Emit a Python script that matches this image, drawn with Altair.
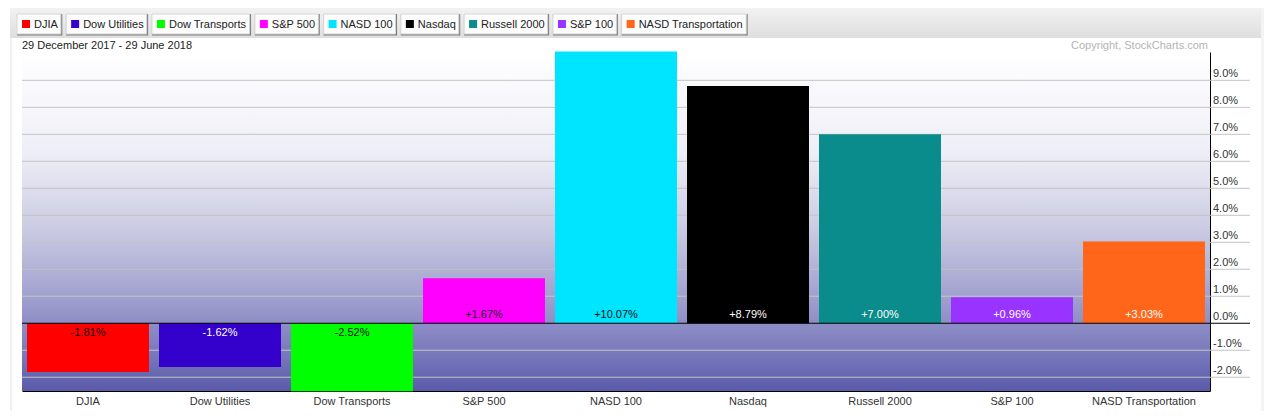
import altair as alt
import pandas as pd

# ---- data ----
NAMES = ["DJIA", "Dow Utilities", "Dow Transports", "S&P 500", "NASD 100",
         "Nasdaq", "Russell 2000", "S&P 100", "NASD Transportation"]
VALUES = [-1.81, -1.62, -2.52, 1.67, 10.07, 8.79, 7.00, 0.96, 3.03]
TICKS = [-2, -1, 1, 2, 3, 4, 5, 6, 7, 8, 9]
AXIS_TICKS = [-2, -1, 0, 1, 2, 3, 4, 5, 6, 7, 8, 9]
DATE_RANGE = "29 December 2017 - 29 June 2018"
COPYRIGHT = "Copyright, StockCharts.com"

# ---- styles ----
BAR_COLORS = ["#ff0000", "#3300cc", "#00ff00", "#ff00ff", "#00e5ff",
              "#000000", "#0a8c8c", "#9933ff", "#ff6619"]
LABEL_COLORS = ["#111111", "#ffffff", "#111111", "#222222", "#111111",
                "#ffffff", "#ffffff", "#ffffff", "#ffffff"]
FONT = "Liberation Sans, Arial, sans-serif"
W, H = 1188, 339

df = pd.DataFrame({"name": NAMES, "value": VALUES})
df["label"] = [f"{v:+.2f}%" for v in VALUES]

x_enc = alt.X("name:N", sort=NAMES,
              scale=alt.Scale(domain=NAMES, paddingInner=0.0758, paddingOuter=0.0379),
              axis=alt.Axis(title=None, labelAngle=0, ticks=False, domainColor="#000000",
                            domainWidth=1, labelFont=FONT, labelFontSize=11,
                            labelColor="#333333", labelPadding=4))
y_scale = alt.Scale(domain=[-2.51, 10.05], nice=False, zero=False)
y_axis = alt.Axis(orient="right", title=None, values=AXIS_TICKS, grid=False, ticks=False,
                  labels=False, domainColor="#000000")
color_scale = alt.Scale(domain=NAMES, range=BAR_COLORS)

one = pd.DataFrame({"k": [0]})

bg = alt.Chart(one).mark_rect(
    color=alt.Gradient(gradient="linear", x1=0, x2=0, y1=0, y2=1, stops=[
        alt.GradientStop(offset=0, color="#ffffff"),
        alt.GradientStop(offset=0.3, color="#eeeef7"),
        alt.GradientStop(offset=0.52, color="#cbcbe3"),
        alt.GradientStop(offset=0.72, color="#a1a1cf"),
        alt.GradientStop(offset=0.9, color="#7676bb"),
        alt.GradientStop(offset=1, color="#5a5aa9"),
    ])
).encode(x=alt.value(0), x2=alt.value(W), y=alt.value(0), y2=alt.value(H))

grid = alt.Chart(pd.DataFrame({"value": TICKS})).mark_rule(color="#c4c4c4", strokeWidth=1).encode(
    y=alt.Y("value:Q", scale=y_scale, axis=y_axis), x=alt.value(0), x2=alt.value(W + 40))

tick_df = pd.DataFrame({"value": AXIS_TICKS})
tick_df["label"] = [f"{v:.1f}%" for v in AXIS_TICKS]
tick_labels = alt.Chart(tick_df).mark_text(
    align="left", baseline="alphabetic", dy=-3, font=FONT, fontSize=11, color="#333333").encode(
    x=alt.value(W + 3), y=alt.Y("value:Q", scale=y_scale, axis=y_axis), text="label:N")

bars = alt.Chart(df).mark_bar().encode(
    x=x_enc,
    y=alt.Y("value:Q", scale=y_scale, axis=y_axis),
    y2=alt.datum(0),
    color=alt.Color("name:N", scale=color_scale, legend=None),
)

zero = alt.Chart(one).mark_rule(color="#000000", strokeWidth=1).encode(
    y=alt.datum(0), x=alt.value(0), x2=alt.value(W + 40))

lab_fill = alt.Fill("name:N", scale=alt.Scale(domain=NAMES, range=LABEL_COLORS), legend=None)
txt_pos = alt.Chart(df).transform_filter("datum.value > 0").mark_text(
    baseline="bottom", dy=-3, font=FONT, fontSize=11).encode(
    x=alt.X("name:N", sort=NAMES), y=alt.datum(0), text="label:N", fill=lab_fill)
txt_neg = alt.Chart(df).transform_filter("datum.value < 0").mark_text(
    baseline="top", dy=4, font=FONT, fontSize=11).encode(
    x=alt.X("name:N", sort=NAMES), y=alt.datum(0), text="label:N", fill=lab_fill)

date_txt = alt.Chart(pd.DataFrame({"t": [DATE_RANGE]})).mark_text(
    align="left", baseline="alphabetic", font=FONT, fontSize=11, color="#222222").encode(
    x=alt.value(0), y=alt.value(-3), text="t:N")
copy_txt = alt.Chart(pd.DataFrame({"t": [COPYRIGHT]})).mark_text(
    align="right", baseline="alphabetic", font=FONT, fontSize=11, color="#b4b4b4").encode(
    x=alt.value(W - 2), y=alt.value(-3), text="t:N")

main = alt.layer(bg, grid, bars, zero, tick_labels, txt_pos, txt_neg, date_txt, copy_txt)

# ---- legend buttons (layout computed from Arial text widths) ----
CW = {" ": 278, "&": 667, "A": 667, "D": 722, "I": 278, "J": 500, "N": 722, "P": 667,
      "R": 722, "S": 667, "T": 611, "U": 722, "a": 556, "c": 500, "d": 556, "e": 556,
      "i": 222, "l": 222, "n": 556, "o": 556, "p": 556, "q": 556, "r": 333, "s": 500,
      "t": 278, "u": 556, "w": 722}
def tw(s):
    return sum(CW.get(c, 556) for c in s) * 11 / 1000

bx0, bx1 = [], []
cur = -5
for n in NAMES:
    w = 4 + 8 + 4 + tw(n) + 4
    bx0.append(cur)
    bx1.append(cur + w)
    cur += w + 5.3
leg = pd.DataFrame({"name": NAMES, "bx0": bx0, "bx1": bx1})
leg["bx1s"] = leg["bx1"] + 1.5
leg["sx0"] = leg["bx0"] + 5
leg["sx1"] = leg["sx0"] + 8
leg["tx"] = leg["sx1"] + 4

band = alt.Chart(one).mark_rect(
    color=alt.Gradient(gradient="linear", x1=0, x2=0, y1=0, y2=1, stops=[
        alt.GradientStop(offset=0, color="#f2f2f2"),
        alt.GradientStop(offset=1, color="#dedede"),
    ])
).encode(x=alt.value(-12), x2=alt.value(1240), y=alt.value(-44), y2=alt.value(-14))
lstrip = alt.Chart(one).mark_rect(color="#f0f0f0").encode(
    x=alt.value(-12), x2=alt.value(-10), y=alt.value(-14), y2=alt.value(H + 20))
rstrip = alt.Chart(one).mark_rect(color="#f4f4f4").encode(
    x=alt.value(1239), x2=alt.value(1242), y=alt.value(-44), y2=alt.value(H + 20))

shadow = alt.Chart(leg).mark_rect(color="#7c7c7c").encode(
    x=alt.X("bx0:Q", scale=None, axis=None), x2="bx1s:Q",
    y=alt.value(-38), y2=alt.value(-16.5))
button = alt.Chart(leg).mark_rect(fill="#fcfcfc", stroke="#d6d6d6", strokeWidth=1).encode(
    x=alt.X("bx0:Q", scale=None, axis=None), x2="bx1:Q",
    y=alt.value(-38), y2=alt.value(-18))
square = alt.Chart(leg).mark_rect().encode(
    x=alt.X("sx0:Q", scale=None, axis=None), x2="sx1:Q",
    y=alt.value(-32), y2=alt.value(-24),
    color=alt.Color("name:N", scale=color_scale, legend=None))
ltext = alt.Chart(leg).mark_text(align="left", baseline="middle", font=FONT, fontSize=11,
                                 color="#222222").encode(
    x=alt.X("tx:Q", scale=None, axis=None), y=alt.value(-27.5), text="name:N")

legend = alt.layer(band, lstrip, rstrip, shadow, button, square, ltext)

chart = alt.layer(legend, main).resolve_scale(
    x="independent", y="independent", color="independent"
).properties(
    width=W, height=H,
    autosize=alt.AutoSizeParams(type="none"),
    padding={"left": 14, "top": 44, "right": 54, "bottom": 20},
    background="#ffffff",
).configure_view(strokeWidth=0)

chart.save("out.html", embed_options={"renderer": "svg", "actions": False})
